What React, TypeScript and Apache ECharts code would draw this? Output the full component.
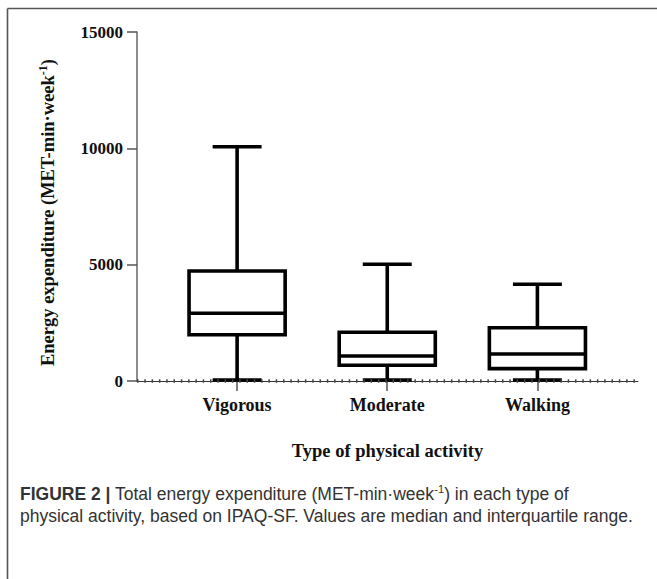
import React, { useEffect, useRef } from "react";
import * as echarts from "echarts";

const categories = ["Vigorous", "Moderate", "Walking"];
const minValues = [40, 40, 40];
const q1Values = [1990, 675, 530];
const medianValues = [2910, 1075, 1160];
const q3Values = [4730, 2095, 2290];
const maxValues = [10070, 5020, 4160];
const yTickValues = [0, 5000, 10000, 15000];

const serif = "'Liberation Serif', 'DejaVu Serif', serif";
const sans = "'Liberation Sans', Arial, sans-serif";

export default function App() {
  const ref = useRef<HTMLDivElement>(null);

  useEffect(() => {
    if (!ref.current) return;
    const chart = echarts.init(ref.current, undefined, { renderer: "svg" });

    const data = categories.map((c, i) => [
      i + 1,
      minValues[i],
      q1Values[i],
      medianValues[i],
      q3Values[i],
      maxValues[i],
    ]);

    const renderItem = (params: any, api: any) => {
      const x = api.value(0);
      const pMin = api.coord([x, api.value(1)]);
      const pQ1 = api.coord([x, api.value(2)]);
      const pMed = api.coord([x, api.value(3)]);
      const pQ3 = api.coord([x, api.value(4)]);
      const pMax = api.coord([x, api.value(5)]);
      const unit = api.size([1, 0])[0];
      const boxHalf = unit * 0.32;
      const capHalf = unit * 0.163;
      const cx = pMed[0];
      const st = { stroke: "#000", lineWidth: 3.6, fill: null };
      return {
        type: "group",
        children: [
          { type: "line", shape: { x1: cx, y1: pMin[1], x2: cx, y2: pQ1[1] }, style: st },
          { type: "line", shape: { x1: cx, y1: pQ3[1], x2: cx, y2: pMax[1] }, style: st },
          { type: "line", shape: { x1: cx - capHalf, y1: pMin[1], x2: cx + capHalf, y2: pMin[1] }, style: st },
          { type: "line", shape: { x1: cx - capHalf, y1: pMax[1], x2: cx + capHalf, y2: pMax[1] }, style: st },
          {
            type: "rect",
            shape: { x: cx - boxHalf, y: pQ3[1], width: boxHalf * 2, height: pQ1[1] - pQ3[1] },
            style: { stroke: "#000", lineWidth: 3.6, fill: "#fff" },
          },
          { type: "line", shape: { x1: cx - boxHalf, y1: pMed[1], x2: cx + boxHalf, y2: pMed[1] }, style: st },
        ],
      };
    };

    chart.setOption({
      animation: false,
      backgroundColor: "#fff",
      grid: { left: 137, right: 19, top: 32, bottom: 198, containLabel: false },
      xAxis: {
        type: "value",
        min: 1 / 3,
        max: 3.67,
        position: "bottom",
        axisLine: { show: true, onZero: false, lineStyle: { color: "#333", width: 1 } },
        axisTick: { show: true, customValues: [1, 2, 3], length: 10, lineStyle: { color: "#555", width: 1.5 } },
        axisLabel: {
          customValues: [1, 2, 3],
          formatter: (v: number) => categories[Math.round(v) - 1] || "",
          fontFamily: serif,
          fontWeight: "bold",
          fontSize: 18,
          color: "#111",
          margin: 15,
        },
        splitLine: { show: false },
        name: "Type of physical activity",
        nameLocation: "middle",
        nameGap: 60,
        nameTextStyle: { fontFamily: serif, fontWeight: "bold", fontSize: 18.5, color: "#111" },
      },
      yAxis: {
        type: "value",
        min: 0,
        max: 15000,
        interval: 5000,
        axisLine: { show: true, lineStyle: { color: "#666", width: 1.5 } },
        axisTick: { show: true, length: 10, lineStyle: { color: "#555", width: 1.5 } },
        axisLabel: {
          fontFamily: serif,
          fontWeight: "bold",
          fontSize: 17,
          color: "#111",
          margin: 14,
          customValues: yTickValues,
          formatter: (v: number) => String(v),
        },
        splitLine: { show: false },
        name: "{a|Energy expenditure (MET-min·week}{s|-1}{a|)}",
        nameLocation: "middle",
        nameRotate: 90,
        nameGap: 78,
        nameTextStyle: {
          padding: [0, 12, 0, 0],
          rich: {
            a: { fontFamily: serif, fontWeight: "bold", fontSize: 18.5, color: "#111", lineHeight: 22 },
            s: { fontFamily: serif, fontWeight: "bold", fontSize: 12, color: "#111", verticalAlign: "top", lineHeight: 13 },
          },
        },
      },
      series: [
        {
          type: "custom",
          renderItem,
          data,
          encode: { x: 0, y: [1, 2, 3, 4, 5] },
          markLine: {
            silent: true,
            symbol: ["none", "none"],
            label: { show: false },
            lineStyle: { color: "#444", width: 3.5, type: [1.5, 5.8] },
            data: [{ yAxis: 0 }],
          },
        },
      ],
      graphic: [
        { type: "line", shape: { x1: 7.5, y1: 8.5, x2: 657, y2: 8.5 }, style: { stroke: "#555", lineWidth: 1.6 } },
        { type: "line", shape: { x1: 7.5, y1: 8.5, x2: 7.5, y2: 579 }, style: { stroke: "#555", lineWidth: 1.6 } },
        {
          type: "text",
          left: 20,
          top: 483,
          style: {
            text: "{b|FIGURE 2 |} Total energy expenditure (MET-min·week{s|-1}) in each type of",
            font: `17.5px ${sans}`,
            fill: "#333",
            rich: {
              b: { fontFamily: sans, fontWeight: "bold", fontSize: 17.5, fill: "#333", lineHeight: 21 },
              s: { fontFamily: sans, fontSize: 11, fill: "#333", verticalAlign: "top", lineHeight: 12 },
            },
          },
        },
        {
          type: "text",
          left: 20,
          top: 507,
          style: {
            text: "physical activity, based on IPAQ-SF. Values are median and interquartile range.",
            font: `17.5px ${sans}`,
            fill: "#333",
          },
        },
      ],
    });

    return () => chart.dispose();
  }, []);

  return (
    <div
      ref={ref}
      style={{ position: "fixed", left: 0, top: 0, width: 657, height: 579, background: "#fff" }}
    />
  );
}
